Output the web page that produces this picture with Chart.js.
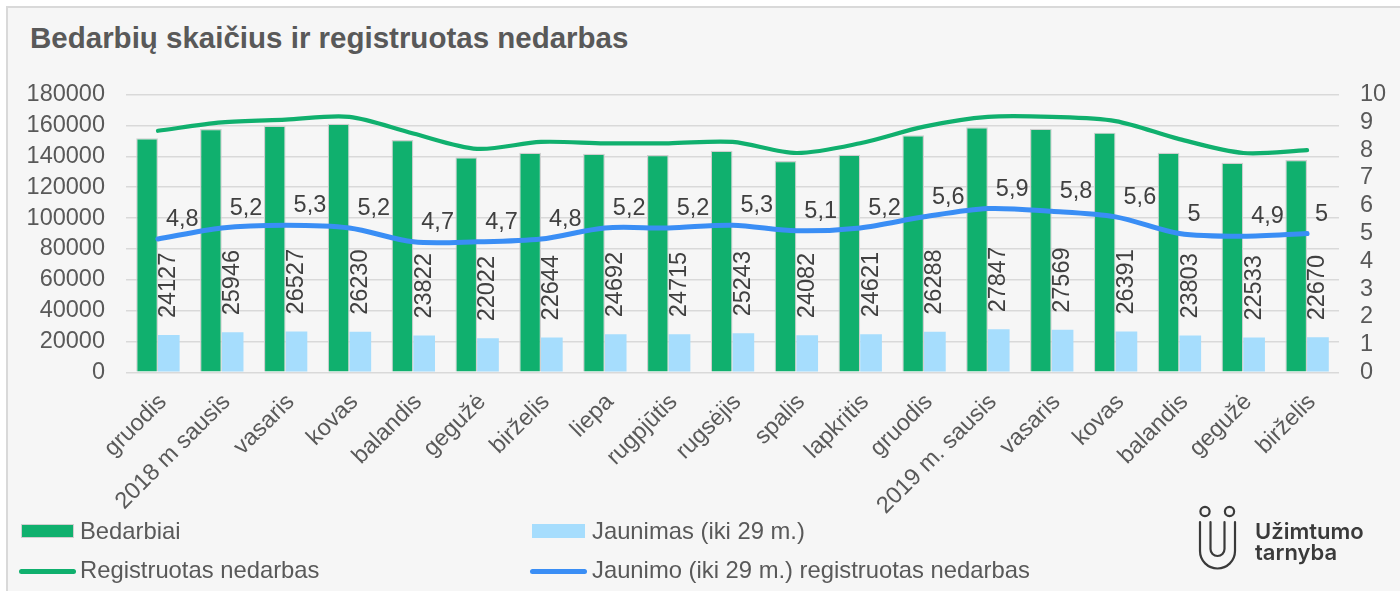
<!DOCTYPE html>
<html>
<head>
<meta charset="utf-8">
<script src="https://cdn.jsdelivr.net/npm/chart.js@4.4.1/dist/chart.umd.min.js"></script>
<style>
  html, body { margin: 0; padding: 0; background: #ffffff; }
  #wrap { position: relative; width: 1400px; height: 591px; overflow: hidden; }
  #box { position: absolute; left: 6px; top: 6px; width: 1420px; height: 620px; background: #f6f6f6; border: 2px solid #d9d9d9; }
  #c { position: absolute; left: 0; top: 0; }
  #title { position: absolute; left: 30px; top: 23px; font: bold 29.5px "Liberation Sans", Arial, sans-serif; line-height: 29.5px; color: #595959; white-space: nowrap; }
  .lg { position: absolute; font: 23.8px "Liberation Sans", Arial, sans-serif; line-height: 23px; color: #595959; white-space: nowrap; }
  .sw { position: absolute; box-sizing: border-box; }
  .logo { position: absolute; font-family: Inter, "Open Sans", sans-serif; font-weight: 600; font-size: 22px; line-height: 22px; color: #3a3a3a; white-space: nowrap; }
</style>
</head>
<body>
<div id="wrap">
  <div id="box"></div>
  <div id="title">Bedarbių skaičius ir registruotas nedarbas</div>
  <canvas id="c" width="1400" height="591"></canvas>
  <div id="legend"></div>
  <svg style="position:absolute;left:0;top:0" width="1400" height="591">
    <g fill="none" stroke="#3a3a3a" stroke-width="2.2" stroke-linecap="round">
      <circle cx="1205" cy="511.5" r="4.6"/>
      <circle cx="1229.5" cy="511.5" r="4.6"/>
      <path d="M1200,522 V551 A17.5,17.5 0 0 0 1235,551 V522"/>
      <path d="M1210.5,522 V549 A7,7 0 0 0 1224.5,549 V522"/>
    </g>
  </svg>
  <div class="logo" style="left:1255px;top:520px">Užimtumo</div>
  <div class="logo" style="left:1255px;top:541px">tarnyba</div>
</div>
<script>
const categories = ['gruodis','2018 m sausis','vasaris','kovas','balandis','gegužė','birželis','liepa','rugpjūtis','rugsėjis','spalis','lapkritis','gruodis','2019 m. sausis','vasaris','kovas','balandis','gegužė','birželis'];
const bedarbiai = [151700,157800,159900,161200,150600,139400,142400,141700,140900,143700,137000,141100,153700,158900,157900,155400,142400,135900,137600];
const jaunimas = [24127,25946,26527,26230,23822,22022,22644,24692,24715,25243,24082,24621,26288,27847,27569,26391,23803,22533,22670];
const registruotasNedarbas = [8.7,9.0,9.1,9.2,8.6,8.05,8.3,8.25,8.25,8.3,7.9,8.25,8.85,9.2,9.2,9.05,8.4,7.9,8.0];
const jaunimoNedarbas = [4.8,5.2,5.3,5.2,4.7,4.7,4.8,5.2,5.2,5.3,5.1,5.2,5.6,5.9,5.8,5.6,5,4.9,5];
const leftTicks = [0,20000,40000,60000,80000,100000,120000,140000,160000,180000];
const rightTicks = [0,1,2,3,4,5,6,7,8,9,10];

const GREEN = '#10b06e', LBLUE = '#a6ddfd', BLUE = '#3a8ef5';
const FONT = '"Liberation Sans", Arial, sans-serif';
const FS = 23.5;
const fmt = v => String(v).replace('.', ',');

const labelPlugin = {
  id: 'valueLabels',
  afterDatasetsDraw(chart) {
    const ctx = chart.ctx;
    ctx.save();
    ctx.font = FS + 'px ' + FONT;
    ctx.fillStyle = '#404040';
    const mb = chart.getDatasetMeta(1);
    mb.data.forEach((el, i) => {
      ctx.save();
      ctx.translate(el.x, el.y - 17);
      ctx.rotate(-Math.PI / 2);
      ctx.textAlign = 'left';
      ctx.textBaseline = 'middle';
      ctx.fillText(String(chart.data.datasets[1].data[i]), 0, 0);
      ctx.restore();
    });
    const ml = chart.getDatasetMeta(3);
    ml.data.forEach((el, i) => {
      ctx.textAlign = 'left';
      ctx.textBaseline = 'alphabetic';
      ctx.fillText(fmt(chart.data.datasets[3].data[i]), el.x + 8, el.y - 13);
    });
    ctx.restore();
  }
};

const tickFont = { family: FONT, size: FS };

const chart = new Chart(document.getElementById('c'), {
  type: 'bar',
  data: {
    labels: categories,
    datasets: [
      { type: 'bar', label: 'Bedarbiai', data: bedarbiai, backgroundColor: GREEN, borderColor: '#cfcfcf', borderWidth: 1.2, yAxisID: 'y', order: 2, barPercentage: 1.0, categoryPercentage: 0.68 },
      { type: 'bar', label: 'Jaunimas (iki 29 m.)', data: jaunimas, backgroundColor: LBLUE, borderWidth: 0, yAxisID: 'y', order: 2, barPercentage: 1.0, categoryPercentage: 0.68 },
      { type: 'line', label: 'Registruotas nedarbas', data: registruotasNedarbas, borderColor: GREEN, borderWidth: 4.2, pointRadius: 0, tension: 0.3, yAxisID: 'y1', order: 1, borderCapStyle: 'round' },
      { type: 'line', label: 'Jaunimo (iki 29 m.) registruotas nedarbas', data: jaunimoNedarbas, borderColor: BLUE, borderWidth: 5, pointRadius: 0, tension: 0.3, yAxisID: 'y1', order: 1, borderCapStyle: 'round' }
    ]
  },
  options: {
    responsive: false,
    animation: false,
    layout: { padding: { top: 94.7, left: 0, right: 0, bottom: 0 } },
    plugins: { legend: { display: false }, tooltip: { enabled: false }, title: { display: false } },
    scales: {
      x: {
        grid: { display: false, drawTicks: false },
        border: { display: false },
        ticks: { autoSkip: false, minRotation: 45, maxRotation: 45, padding: 16, labelOffset: 5, color: '#595959', font: tickFont },
        afterFit(s) { s.height = 591 - 372.3; }
      },
      y: {
        position: 'left', min: 0, max: 180000,
        afterBuildTicks(s) { s.ticks = leftTicks.map(v => ({ value: v })); },
        grid: { color: '#d9d9d9', lineWidth: 1.6, drawTicks: false },
        border: { display: false },
        ticks: { autoSkip: false, padding: 21, color: '#595959', font: tickFont, callback: v => String(v) },
        afterFit(s) { s.width = 126; }
      },
      y1: {
        position: 'right', min: 0, max: 10,
        afterBuildTicks(s) { s.ticks = rightTicks.map(v => ({ value: v })); },
        grid: { display: false, drawTicks: false, drawOnChartArea: false },
        border: { display: false },
        ticks: { autoSkip: false, padding: 21, color: '#595959', font: tickFont, callback: v => String(v) },
        afterFit(s) { s.width = 61; }
      }
    }
  },
  plugins: [labelPlugin]
});

// HTML legend built from the datasets
(function buildLegend() {
  const lg = document.getElementById('legend');
  const cols = [{ sw: 21, tx: 80 }, { sw: 532, tx: 592 }];
  const rows = [{ top: 518.5, mid: 531 }, { top: 558, mid: 571 }];
  chart.data.datasets.forEach((ds, i) => {
    const c = cols[i % 2], r = rows[Math.floor(i / 2)];
    const sw = document.createElement('div');
    sw.className = 'sw';
    if (ds.type === 'bar') {
      sw.style.cssText = `left:${c.sw}px;top:${r.mid - 7}px;width:53px;height:14px;background:${ds.backgroundColor};` + (ds.borderWidth ? `border:1.5px solid ${ds.borderColor};` : '');
    } else {
      sw.style.cssText = `left:${c.sw - 2}px;top:${r.mid - 2.5}px;width:57px;height:5px;border-radius:3px;background:${ds.borderColor};`;
    }
    lg.appendChild(sw);
    const t = document.createElement('div');
    t.className = 'lg';
    t.style.left = c.tx + 'px';
    t.style.top = r.top + 'px';
    t.textContent = ds.label;
    lg.appendChild(t);
  });
})();
</script>
</body>
</html>
